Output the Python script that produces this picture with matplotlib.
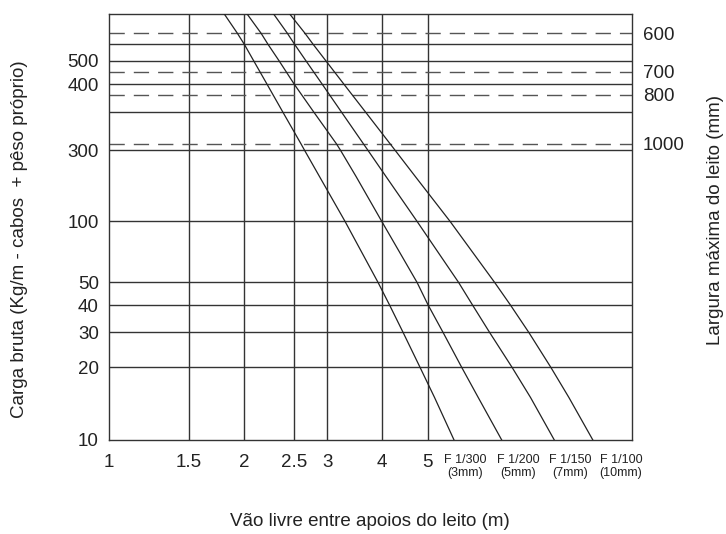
import numpy as np
import matplotlib.pyplot as plt

plt.rcParams['font.family'] = ['Liberation Sans', 'DejaVu Sans']

# axis ticks / grid values
span_ticks = [1, 1.5, 2, 2.5, 3, 4, 5]
load_ticks = [10, 20, 30, 40, 50, 100, 300, 400, 500]
load_lines = [20, 30, 40, 50, 100, 300, 350, 400, 500, 550]

# dashed lines: load level for each max tray width
width_loads = [600, 450, 380, 308]
width_labels = ['600', '700', '800', '1000']

# curves (load vs span)
curve_loads = [700, 600, 550, 500, 400, 350, 308, 300, 200, 100, 50, 40, 30, 20, 15, 10]
span_f300 = [1.800, 1.929, 2.000, 2.085, 2.214, 2.373, 2.593, 2.646, 2.873, 3.294,
             3.922, 4.155, 4.436, 4.817, 5.169, 5.683]
span_f200 = [2.022, 2.155, 2.223, 2.335, 2.500, 2.780, 3.147, 3.217, 3.493, 4.000,
             4.747, 5.010, 5.386, 5.898, 6.392, 7.166]
span_f150 = [2.276, 2.423, 2.504, 2.665, 2.918, 3.229, 3.630, 3.719, 4.084, 4.747,
             5.808, 6.217, 6.753, 7.534, 8.243, 9.253]
span_f100 = [2.445, 2.651, 2.774, 2.975, 3.277, 3.667, 4.165, 4.269, 4.708, 5.573,
             6.920, 7.475, 8.171, 9.097, 9.933, 11.16]
curve_names = ['F 1/300\n(3mm)', 'F 1/200\n(5mm)', 'F 1/150\n(7mm)', 'F 1/100\n(10mm)']


def anchored(vals, pos):
    # piecewise log scale, the printed chart is not a true log-log grid
    lv = np.log10(vals)
    pos = np.asarray(pos, float)

    def fwd(v):
        return np.interp(np.log10(np.maximum(np.asarray(v, float), 1e-6)), lv, pos)

    def inv(p):
        return 10 ** np.interp(p, pos, lv)
    return fwd, inv


xscale = anchored([1, 1.5, 2, 2.5, 3, 4, 5, 13.5],
                  [0, 80.2, 135.8, 185.8, 218.8, 273.2, 319.2, 523.5])
yscale = anchored([10, 20, 30, 40, 50, 100, 300, 350, 400, 500, 550, 700],
                  [0, 72.7, 107.7, 135, 157.7, 218.7, 289.7, 328.3, 355.7, 379.3, 395.7, 426.5])

W, H = 726, 534
fig = plt.figure(figsize=(W / 100, H / 100), dpi=100)
ax = fig.add_axes([108.5 / W, 1 - 440 / H, 523.5 / W, 426.5 / H])
ax.set_xscale('function', functions=xscale)
ax.set_yscale('function', functions=yscale)
ax.set_xlim(1, 13.5)
ax.set_ylim(10, 700)

line_c = '#333333'
for v in load_lines:
    ax.axhline(v, color=line_c, lw=1.0, zorder=1)
for v in span_ticks[1:]:
    ax.axvline(v, color=line_c, lw=1.0, zorder=1)
for v in width_loads:
    ax.axhline(v, color='#555555', lw=1.0, ls=(0, (11, 6.5)), zorder=1)

for spans in [span_f300, span_f200, span_f150, span_f100]:
    ax.plot(spans, curve_loads, color='#222222', lw=0.9, zorder=3)

ax.set_xticks(span_ticks)
ax.set_xticklabels(['1', '1.5', '2', '2.5', '3', '4', '5'])
ax.set_yticks(load_ticks)
ax.set_yticklabels([str(v) for v in load_ticks])
ax.minorticks_off()
ax.tick_params(axis='both', length=0, labelsize=13.5, colors='#222222')
ax.tick_params(axis='x', pad=10)
ax.tick_params(axis='y', pad=7)
for s in ax.spines.values():
    s.set_color(line_c)
    s.set_linewidth(1.0)

ax2 = ax.twinx()
ax2.set_yscale('function', functions=yscale)
ax2.set_ylim(10, 700)
ax2.set_yticks(width_loads)
ax2.set_yticklabels(width_labels)
ax2.minorticks_off()
ax2.tick_params(axis='y', length=0, labelsize=13.5, colors='#222222', pad=8)
for s in ax2.spines.values():
    s.set_visible(False)

label_x = [6.0, 7.75, 10.0, 12.8]
for xv, name in zip(label_x, curve_names):
    ax.text(xv, -0.032, name, transform=ax.get_xaxis_transform(), ha='center', va='top',
            fontsize=9, linespacing=1.15, color='#222222')

fig.text(20 / W, 1 - 239 / H, 'Carga bruta (Kg/m - cabos  + pêso próprio)', rotation=90,
         ha='center', va='center', fontsize=13.5, color='#222222')
fig.text(716 / W, 1 - 220 / H, 'Largura máxima do leito (mm)', rotation=90,
         ha='center', va='center', fontsize=13.5, color='#222222')
fig.text(370 / W, 1 - 522 / H, 'Vão livre entre apoios do leito (m)',
         ha='center', va='center', fontsize=13.5, color='#222222')

fig.savefig('out.png', dpi=100)
